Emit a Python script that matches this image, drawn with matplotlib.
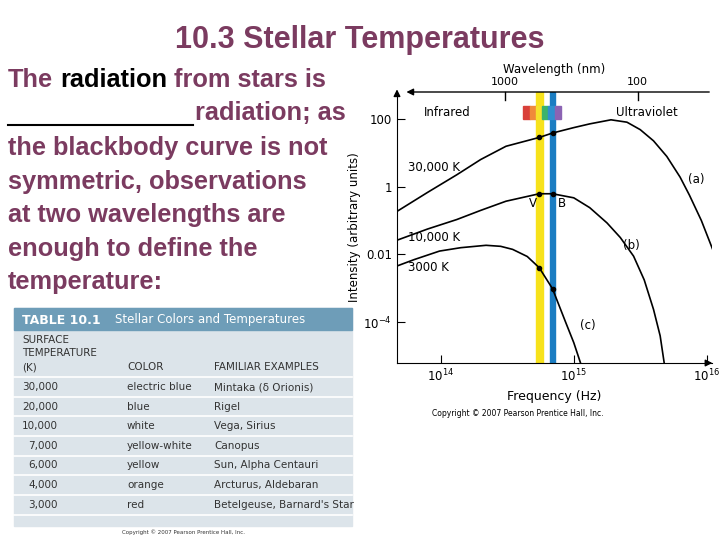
import matplotlib
matplotlib.use("Agg")
import matplotlib.pyplot as plt
from matplotlib.patches import Rectangle
import numpy as np

# ---- data (log10 frequency, log10 intensity) ----
a_logf = [13.67, 13.90, 14.12, 14.30, 14.49, 14.74, 14.84, 15.00, 15.12, 15.28, 15.40, 15.50, 15.60, 15.70, 15.80, 15.87, 15.96, 16.05]
a_logI = [-0.73, -0.17, 0.35, 0.80, 1.19, 1.45, 1.58, 1.74, 1.85, 1.97, 1.90, 1.68, 1.35, 0.89, 0.28, -0.25, -1.00, -1.90]
b_logf = [13.67, 13.90, 14.12, 14.30, 14.49, 14.74, 14.84, 15.00, 15.12, 15.25, 15.35, 15.45, 15.53, 15.60, 15.65, 15.68]
b_logI = [-1.58, -1.25, -0.97, -0.70, -0.43, -0.21, -0.21, -0.33, -0.62, -1.07, -1.50, -2.05, -2.75, -3.62, -4.40, -5.19]
c_logf = [13.67, 13.80, 13.99, 14.15, 14.34, 14.45, 14.54, 14.65, 14.74, 14.84, 14.94, 15.00, 15.05]
c_logI = [-2.34, -2.15, -1.90, -1.80, -1.73, -1.76, -1.85, -2.06, -2.39, -3.01, -4.01, -4.60, -5.19]
V_logf, B_logf = 14.74, 14.84
dots = [(14.74, 1.45), (14.84, 1.58), (14.74, -0.21), (14.84, -0.21), (14.74, -2.39), (14.84, -3.01)]

temps = ["30,000", "20,000", "10,000", "7,000", "6,000", "4,000", "3,000"]
colors = ["electric blue", "blue", "white", "yellow-white", "yellow", "orange", "red"]
examples = ["Mintaka (δ Orionis)", "Rigel", "Vega, Sirius", "Canopus",
            "Sun, Alpha Centauri", "Arcturus, Aldebaran", "Betelgeuse, Barnard's Star"]

W, H = 720, 540
fig = plt.figure(figsize=(7.2, 5.4), dpi=100)
fig.patch.set_facecolor("white")

def T(x, y, s, **kw):
    return fig.text(x / W, 1 - y / H, s, **kw)

PUR = "#7b3b60"
T(360, 40, "10.3 Stellar Temperatures", ha="center", va="center", color=PUR,
  fontsize=22, fontweight="bold", family="Liberation Sans")

body = dict(fontsize=18.3, fontweight="bold", family="Liberation Sans", va="center", color=PUR)
fig.canvas.draw()
r = fig.canvas.get_renderer()
def width(s):
    t = T(0, 0, s, **body); w = t.get_window_extent(r).width; t.remove(); return w
w_the = width("The ")
w_rad = width("radiation")
T(8, 80, "The", **body)
T(8 + w_the, 80, "radiation", **dict(body, color="black"))
T(8 + w_the + w_rad, 80, " from stars is", **body)
fig.add_artist(plt.Line2D([8 / W, 193 / W], [1 - 125 / H, 1 - 125 / H], color="black", lw=1.5))
T(195, 113, "radiation; as", **body)
lines = ["the blackbody curve is not", "symmetric, observations",
         "at two wavelengths are", "enough to define the", "temperature:"]
for i, s in enumerate(lines):
    T(8, 148 + i * 33.5, s, **body)

# ---- table ----
tab = fig.add_axes([0, 0, 1, 1], zorder=0)
tab.set_xlim(0, W); tab.set_ylim(H, 0); tab.axis("off")
tab.add_patch(Rectangle((14, 308), 338, 218, color="#dce4ea"))
tab.add_patch(Rectangle((14, 308), 338, 22, color="#6e9db8"))
for yy in [377, 397, 416, 436, 456, 475, 495, 515]:
    tab.plot([14, 352], [yy, yy], color="white", lw=1.2)
T(22, 320, "TABLE 10.1", color="white", fontsize=9, fontweight="bold", va="center")
T(115, 320, "Stellar Colors and Temperatures", color="white", fontsize=8.5, va="center")
th = dict(fontsize=7.5, color="#333333", va="center")
T(22, 340, "SURFACE", **th); T(22, 353, "TEMPERATURE", **th); T(22, 367, "(K)", **th)
T(127, 367, "COLOR", **th); T(214, 367, "FAMILIAR EXAMPLES", **th)
for i in range(len(temps)):
    y = 387 + i * 19.6
    T(58, y, temps[i], ha="right", **th)
    T(127, y, colors[i], **th)
    T(214, y, examples[i], **th)
T(184, 532, "Copyright © 2007 Pearson Prentice Hall, Inc.", fontsize=4, ha="center", va="center", color="#333")

# ---- chart ----
ax = fig.add_axes([397 / W, 1 - 363 / H, 315 / W, 271 / H], zorder=2)
ax.patch.set_alpha(0)
ax.set_xlim(13.67, 16.04)
ax.set_ylim(-5.2, 2.79)
ax.axvspan(V_logf - 0.025, V_logf + 0.025, color="#f7e21b", zorder=1)
ax.axvspan(B_logf - 0.022, B_logf + 0.022, color="#1b7dc2", zorder=1)
sw = ["#d9403a", "#f08a3a", "#f5e22a", "#3bb36b", "#2f8fd0", "#8b63b3"]
for i, c in enumerate(sw):
    ax.add_patch(Rectangle((14.62 + i * 0.047, 2.0), 0.047, 0.38, color=c, zorder=2))
for xs, ys in [(a_logf, a_logI), (b_logf, b_logI), (c_logf, c_logI)]:
    ax.plot(xs, ys, color="black", lw=1.2, zorder=3, solid_joinstyle="round")
ax.scatter([d[0] for d in dots], [d[1] for d in dots], s=9, color="black", zorder=4)
for sp in ["top", "right"]:
    ax.spines[sp].set_visible(False)
ax.set_xticks([14, 15, 16]); ax.set_xticklabels(["$10^{14}$", "$10^{15}$", "$10^{16}$"])
ax.set_yticks([2, 0, -2, -4]); ax.set_yticklabels(["100", "1", "0.01", "$10^{-4}$"])
ax.tick_params(direction="in", labelsize=8.5, length=6)
ax.set_xlabel("Frequency (Hz)", fontsize=9)
ax.set_ylabel("Intensity (arbitrary units)", fontsize=8.5, labelpad=2)
ax.annotate("", xy=(0, 1.02), xytext=(0, 0.98), xycoords="axes fraction",
            arrowprops=dict(arrowstyle="-|>", color="black", lw=1))
ax.annotate("", xy=(1.01, 0), xytext=(0.98, 0), xycoords="axes fraction",
            arrowprops=dict(arrowstyle="-|>", color="black", lw=1))
ax.annotate("", xy=(13.72, 2.79), xytext=(16.04, 2.79), annotation_clip=False,
            arrowprops=dict(arrowstyle="-|>", color="black", lw=1))
for lf, lab in [(14.48, "1000"), (15.48, "100")]:
    ax.plot([lf, lf], [2.79, 2.55], color="black", lw=1, clip_on=False)
    ax.text(lf, 2.95, lab, ha="center", va="bottom", fontsize=8)
ax.text(14.85, 3.45, "Wavelength (nm)", ha="center", va="center", fontsize=8.5)
ax.text(14.05, 2.2, "Infrared", ha="center", va="center", fontsize=8.5)
ax.text(15.55, 2.2, "Ultraviolet", ha="center", va="center", fontsize=8.5)
ax.text(13.75, 0.45, "30,000 K", fontsize=8.5)
ax.text(13.75, -1.6, "10,000 K", fontsize=8.5)
ax.text(13.75, -2.5, "3000 K", fontsize=8.5)
ax.text(14.66, -0.6, "V", fontsize=8.5)
ax.text(14.88, -0.6, "B", fontsize=8.5)
ax.text(15.86, 0.1, "(a)", fontsize=8.5)
ax.text(15.37, -1.85, "(b)", fontsize=8.5)
ax.text(15.05, -4.2, "(c)", fontsize=8.5)
T(518, 413, "Copyright © 2007 Pearson Prentice Hall, Inc.", fontsize=5.5, ha="center", va="center")

fig.savefig("out.png", dpi=100)
